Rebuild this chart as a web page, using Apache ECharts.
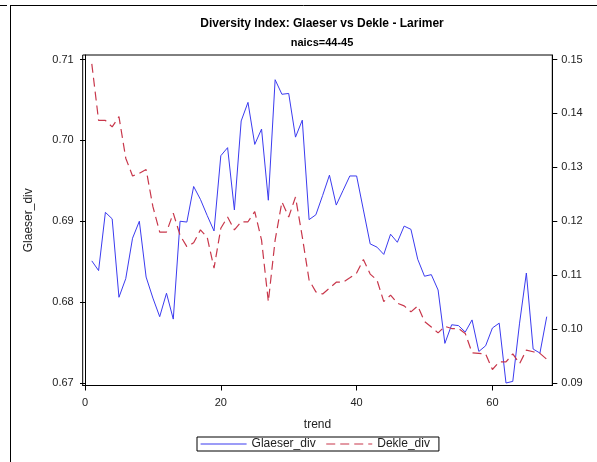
<!DOCTYPE html>
<html>
<head>
<meta charset="utf-8">
<script src="https://cdn.jsdelivr.net/npm/echarts@6/dist/echarts.min.js"></script>
<style>html,body{margin:0;padding:0;background:#fff;}#c{width:597px;height:462px;}</style>
</head>
<body>
<div id="c"></div>
<script>
// ---- data ----
const trend = [1,2,3,4,5,6,7,8,9,10,11,12,13,14,15,16,17,18,19,20,21,22,23,24,25,26,27,28,29,30,31,32,33,34,
  35,36,37,38,39,40,41,42,43,44,45,46,47,48,49,50,51,52,53,54,55,56,57,58,59,60,61,62,63,64,65,66,67,68];
const glaeserDiv = [0.6851,0.6839,0.6911,0.6903,0.6806,0.6829,0.6879,0.6900,0.6831,0.6805,0.6782,0.6811,0.6779,0.6900,0.6899,0.6943,0.6927,0.6907,0.6888,0.6981,
  0.6991,0.6914,0.7024,0.7047,0.6995,0.7014,0.6926,0.7075,0.7057,0.7058,0.7004,0.7025,0.6902,0.6908,0.6932,0.6957,0.6920,0.6938,0.6956,0.6956,
  0.6914,0.6872,0.6868,0.6859,0.6884,0.6874,0.6894,0.6890,0.6853,0.6832,0.6834,0.6815,0.6749,0.6772,0.6771,0.6763,0.6778,0.6739,0.6746,0.6768,
  0.6774,0.6700,0.6702,0.6774,0.6836,0.6742,0.6737,0.6782];
const dekleDiv = [0.1492,0.1387,0.1387,0.1375,0.1394,0.1317,0.1284,0.1289,0.1296,0.1227,0.1180,0.1180,0.1215,0.1174,0.1153,0.1160,0.1184,0.1170,0.1113,0.1187,
  0.1208,0.1184,0.1199,0.1199,0.1218,0.1165,0.1051,0.1165,0.1236,0.1208,0.1245,0.1171,0.1091,0.1069,0.1065,0.1076,0.1087,0.1087,0.1095,0.1104,
  0.1129,0.1102,0.1091,0.1051,0.1063,0.1048,0.1043,0.1032,0.1043,0.1014,0.1004,0.0993,0.1005,0.1001,0.1001,0.0992,0.0956,0.0955,0.0954,0.0925,
  0.0939,0.0939,0.0954,0.0936,0.0961,0.0958,0.0955,0.0944];
const xTicks = [0,20,40,60];
const leftTicks = [0.67,0.68,0.69,0.70,0.71];
const rightTicks = [0.09,0.10,0.11,0.12,0.13,0.14,0.15];

const FONT = '"Liberation Sans", Arial, sans-serif';
const chart = echarts.init(document.getElementById('c'), null, {renderer:'canvas'});
const axisCommon = {
  axisLine:{show:true, lineStyle:{color:'#000', width:1}},
  splitLine:{show:false},
};
chart.setOption({
  animation:false,
  backgroundColor:'#fff',
  title:[
    {text:'Diversity Index: Glaeser vs Dekle - Larimer', left:317, top:13, textAlign:'center',
     textStyle:{fontFamily:FONT, fontSize:12, fontWeight:'bold', color:'#000'}},
    {text:'naics=44-45', left:317, top:32, textAlign:'center',
     textStyle:{fontFamily:FONT, fontSize:11, fontWeight:'bold', color:'#000'}}
  ],
  grid:{left:82.7, right:44.7, top:55, bottom:76.5, show:true, borderColor:'#000', borderWidth:1, containLabel:false},
  xAxis:Object.assign({}, axisCommon, {
    type:'value', min:-0.34, max:68.82,
    name:'trend', nameLocation:'middle', nameGap:33,
    nameTextStyle:{fontFamily:FONT, fontSize:12, color:'#222'},
    axisTick:{show:true, length:5, customValues:xTicks, lineStyle:{color:'#000'}},
    axisLabel:{customValues:xTicks, margin:12, fontFamily:FONT, fontSize:11, color:'#222'}
  }),
  yAxis:[
    Object.assign({}, axisCommon, {
      type:'value', min:0.669691, max:0.710556, position:'left',
      name:'Glaeser_div', nameLocation:'middle', nameGap:48,
      nameTextStyle:{fontFamily:FONT, fontSize:12, color:'#222'},
      axisTick:{show:true, length:5, customValues:leftTicks, lineStyle:{color:'#000'}},
      axisLabel:{customValues:leftTicks, margin:9, fontFamily:FONT, fontSize:11, color:'#222',
        formatter:v=>v.toFixed(2)}
    }),
    Object.assign({}, axisCommon, {
      type:'value', min:0.089536, max:0.150835, position:'right',
      axisTick:{show:true, length:5, customValues:rightTicks, lineStyle:{color:'#000'}},
      axisLabel:{customValues:rightTicks, margin:9, fontFamily:FONT, fontSize:11, color:'#222',
        formatter:v=>v.toFixed(2)}
    })
  ],
  legend:{
    left:197, top:437, orient:'horizontal',
    padding:[1,9,1,3], itemGap:10, itemWidth:46, itemHeight:11,
    borderColor:'#000', borderWidth:1,
    itemStyle:{color:'rgba(0,0,0,0)', opacity:0, borderWidth:0},
    lineStyle:{width:1.2},
    textStyle:{fontFamily:FONT, fontSize:12, color:'#222'},
    data:['Glaeser_div','Dekle_div']
  },
  series:[
    {name:'Glaeser_div', type:'line', yAxisIndex:0, symbol:'none',
     data:trend.map((t,i)=>[t, glaeserDiv[i]]),
     lineStyle:{color:'#3b3bf0', width:1}, itemStyle:{color:'#3b3bf0'}},
    {name:'Dekle_div', type:'line', yAxisIndex:1, symbol:'none',
     data:trend.map((t,i)=>[t, dekleDiv[i]]),
     lineStyle:{color:'#c8374b', width:1.2, type:[9,5]}, itemStyle:{color:'#c8374b'}}
  ],
  graphic:[
    {type:'line', shape:{x1:0,y1:5.5,x2:7,y2:5.5}, style:{stroke:'#000', lineWidth:1}, silent:true},
    {type:'line', shape:{x1:10.5,y1:5,x2:10.5,y2:462}, style:{stroke:'#000', lineWidth:1}, silent:true},
    {type:'line', shape:{x1:10,y1:5.5,x2:597,y2:5.5}, style:{stroke:'#000', lineWidth:1}, silent:true}
  ]
});
</script>
</body>
</html>
